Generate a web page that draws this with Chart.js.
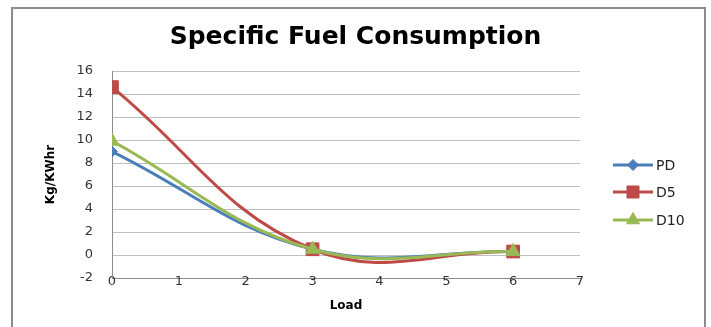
<!DOCTYPE html>
<html>
<head>
<meta charset="utf-8">
<script src="https://cdn.jsdelivr.net/npm/chart.js@4/dist/chart.umd.min.js"></script>
<style>
  html, body { margin: 0; padding: 0; background: #fff; }
  #wrap { position: relative; width: 711px; height: 327px; overflow: hidden; }
  #frame { position: absolute; left: 11px; top: 7px; width: 695px; height: 340px;
           border: 2px solid #8c8c8c; box-sizing: border-box; }
  canvas { position: absolute; left: 0; top: 0; }
</style>
</head>
<body>
<div id="wrap">
  <div id="frame"></div>
  <canvas id="c" width="711" height="327"></canvas>
</div>
<script>
// Load levels and specific fuel consumption (kg/kWh) per fuel blend
const loads = [0, 3, 6];
const pdValues = [9.0, 0.5, 0.3];
const d5Values = [14.6, 0.5, 0.3];
const d10Values = [9.9, 0.5, 0.3];
const seriesNames = ['PD', 'D5', 'D10'];
const yTicks = [-2, 0, 2, 4, 6, 8, 10, 12, 14, 16];
const xTicks = [0, 1, 2, 3, 4, 5, 6, 7];

const colors = ['#4a7ebb', '#be4b48', '#98b954'];
const shapes = ['rectRot', 'rect', 'triangle'];
const radii = [5.5, 9, 8];
const legendRadii = [5.5, 8.5, 7.5];
const FONT = '"DejaVu Sans", sans-serif';

function toPoints(vals) {
  return loads.map((x, i) => ({ x: x, y: vals[i] }));
}

const allValues = [pdValues, d5Values, d10Values];
const datasets = allValues.map((vals, i) => ({
  label: seriesNames[i],
  data: toPoints(vals),
  borderColor: colors[i],
  backgroundColor: colors[i],
  borderWidth: 3,
  pointStyle: shapes[i],
  pointRadius: radii[i],
  pointBorderWidth: 1,
  pointBackgroundColor: colors[i],
  pointBorderColor: colors[i],
  tension: 0.4,
  showLine: true,
  order: 2 - i
}));

// Legend on the right: a short line with the series marker in its middle
const sideLegend = {
  id: 'sideLegend',
  afterDraw(chart) {
    const ctx = chart.ctx;
    const rows = [165, 192, 220];
    ctx.save();
    chart.data.datasets.forEach((ds, i) => {
      const y = rows[i];
      ctx.strokeStyle = ds.borderColor;
      ctx.lineWidth = 3;
      ctx.beginPath();
      ctx.moveTo(613, y);
      ctx.lineTo(653, y);
      ctx.stroke();
      ctx.fillStyle = ds.pointBackgroundColor;
      ctx.strokeStyle = ds.pointBorderColor;
      ctx.lineWidth = 1;
      Chart.helpers.drawPoint(ctx, {
        pointStyle: ds.pointStyle,
        radius: legendRadii[i],
        borderWidth: 1,
        rotation: 0
      }, 633, y);
      ctx.fillStyle = '#222';
      ctx.font = '14px ' + FONT;
      ctx.textAlign = 'left';
      ctx.textBaseline = 'middle';
      ctx.fillText(ds.label, 656, y + 1);
    });
    ctx.restore();
  }
};

new Chart(document.getElementById('c'), {
  type: 'scatter',
  data: { datasets: datasets },
  plugins: [sideLegend],
  options: {
    responsive: false,
    animation: false,
    layout: { padding: 0 },
    plugins: {
      legend: { display: false },
      tooltip: { enabled: false },
      title: {
        display: true,
        text: 'Specific Fuel Consumption',
        color: '#000',
        font: { family: FONT, size: 25, weight: 'bold', lineHeight: 1.2 },
        padding: { top: 22, bottom: 19 }
      }
    },
    scales: {
      x: {
        type: 'linear',
        position: 'bottom',
        min: 0, max: 7,
        afterBuildTicks: s => { s.ticks = xTicks.map(v => ({ value: v })); },
        afterFit: s => { s.height = 327 - 278; },
        // tick labels sit on the axis line, so they must not be clipped to the scale box
        afterUpdate: s => { s._computeLabelArea = () => undefined; },
        grid: { display: false, drawTicks: false },
        border: { display: true, color: '#8c8c8c', width: 1 },
        ticks: { padding: -4, color: '#333', font: { family: FONT, size: 13 } },
        title: {
          display: true, text: 'Load', color: '#000',
          font: { family: FONT, size: 12, weight: 'bold', lineHeight: 1.2 },
          padding: { top: 0, bottom: 14 }
        }
      },
      y: {
        min: -2, max: 16,
        afterBuildTicks: s => { s.ticks = yTicks.map(v => ({ value: v })); },
        afterFit: s => { s.width = 112; },
        grid: { color: '#bfbfbf', lineWidth: 1, drawTicks: false },
        border: { display: true, color: '#8c8c8c', width: 1 },
        ticks: { padding: 19, color: '#333', font: { family: FONT, size: 13 } },
        title: {
          display: true, text: 'Kg/KWhr', color: '#000',
          font: { family: FONT, size: 12, weight: 'bold', lineHeight: 1.2 },
          padding: { top: 44, bottom: 0 }
        }
      },
      side: {
        type: 'linear',
        position: 'right',
        min: 0, max: 1,
        afterFit: s => { s.width = 711 - 580; },
        grid: { display: false, drawTicks: false },
        border: { display: false },
        ticks: { display: false }
      }
    }
  }
});
</script>
</body>
</html>
